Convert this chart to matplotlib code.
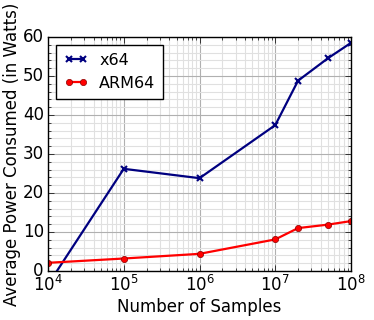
import matplotlib
matplotlib.use("Agg")
import matplotlib.pyplot as plt
from matplotlib.ticker import MultipleLocator

samples = [1e4, 1e5, 1e6, 1e7, 2e7, 5e7, 1e8]
x64_power = [-3.5, 26.2, 23.8, 37.4, 48.8, 54.6, 58.5]
arm64_power = [2.1, 3.2, 4.4, 8.1, 11.0, 11.9, 12.8]

plt.style.use("classic")
plt.rcParams["font.size"] = 11

fig = plt.figure(figsize=(3.74, 3.2), dpi=100, facecolor="white")
ax = fig.add_axes([48 / 374, 1 - 271 / 320, 303 / 374, 234 / 320])

ax.plot(samples, x64_power, color="navy", marker="x", markersize=5, mew=1.5,
        linewidth=1.6, label="x64")
ax.plot(samples, arm64_power, color="red", marker="o", markersize=4.5,
        markeredgecolor="darkred", linewidth=1.6, label="ARM64")

ax.set_xscale("log")
ax.set_xlim(1e4, 1e8)
ax.set_ylim(0, 60)
ax.yaxis.set_minor_locator(MultipleLocator(2))
ax.grid(True, which="major", color="#b0b0b0", linestyle="-", linewidth=0.8)
ax.grid(True, which="minor", color="#e0e0e0", linestyle="-", linewidth=0.8)
ax.set_axisbelow(True)

ax.set_xlabel("Number of Samples", fontsize=12, labelpad=2)
ax.set_ylabel("Average Power Consumed (in Watts)", fontsize=12, labelpad=1)
ax.tick_params(labelsize=12, pad=3)

ax.legend(loc="upper left", numpoints=2, fontsize=11.5, fancybox=False,
          handlelength=1.5, handletextpad=0.7, borderpad=0.5,
          labelspacing=0.5, borderaxespad=0.5)

fig.savefig("out.png", dpi=100)
